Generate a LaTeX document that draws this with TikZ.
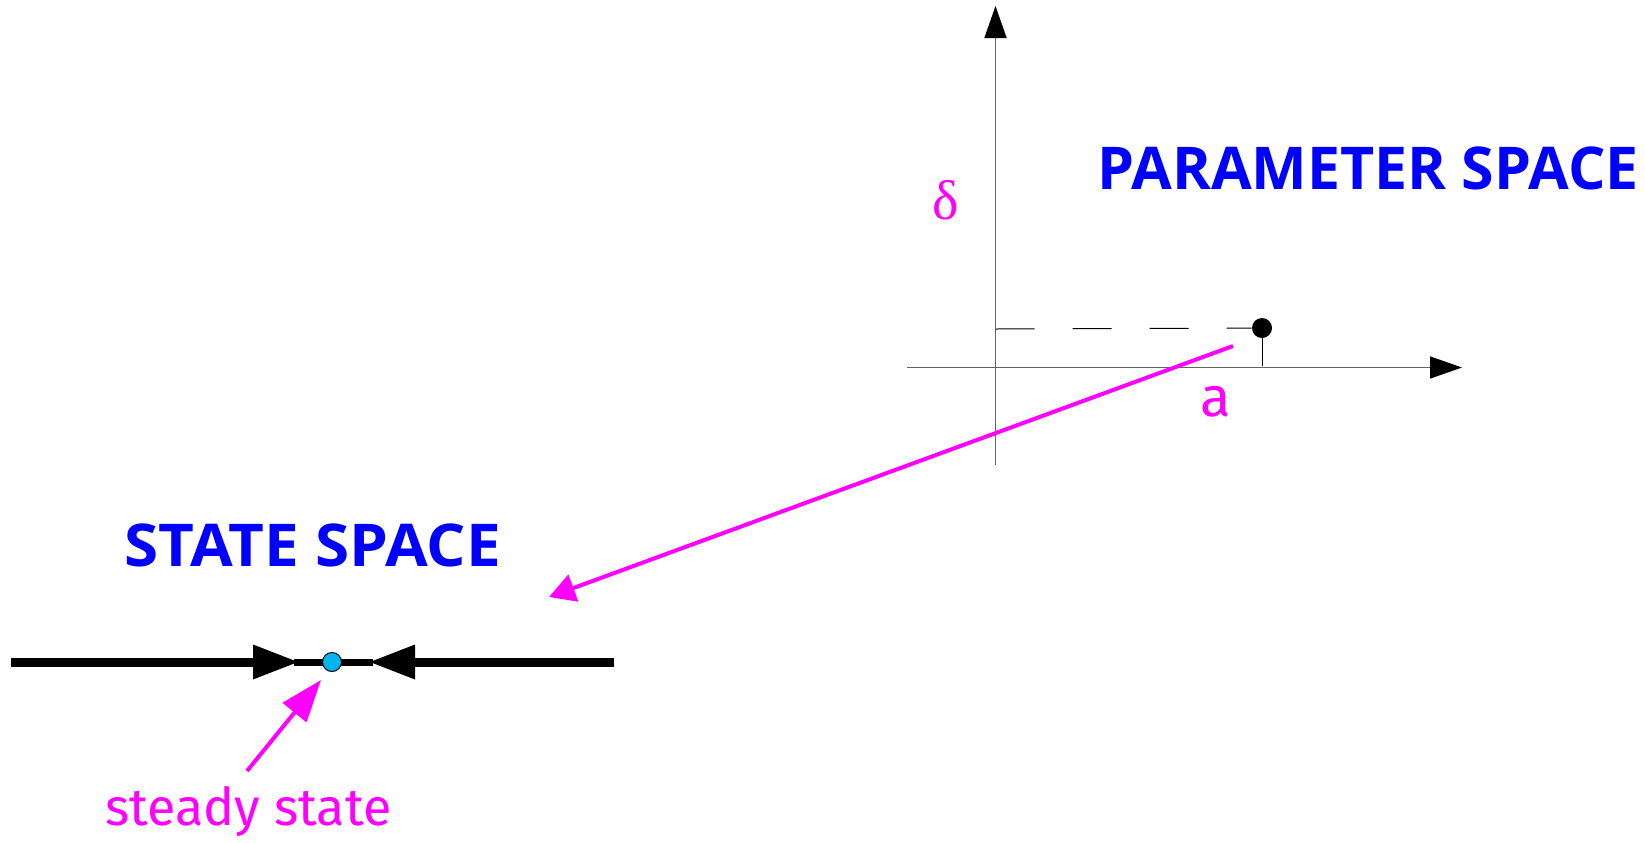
\documentclass[tikz,border=0pt]{standalone}
\usepackage{fontspec}
\usetikzlibrary{arrows.meta}
\newfontfamily\headfont{Open Sans}
\newfontfamily\labfont{Fira Sans}
\newfontfamily\greekfont{Liberation Serif}
\definecolor{mag}{RGB}{255,0,255}
\definecolor{hblue}{RGB}{0,0,255}
\definecolor{sscyan}{RGB}{0,180,240}
\definecolor{axgray}{RGB}{100,100,100}
\tikzset{
  axis/.style={draw=axgray, line width=0.75pt, -{Triangle[length=16pt,width=11pt,fill=black,color=black]}},
  magarrow/.style={draw=mag, line width=2pt, -{Triangle[length=13pt,width=14pt]}},
  bigmagarrow/.style={draw=mag, line width=2pt, -{Triangle[length=21pt,width=15pt]}},
  heading/.style={font=\headfont\bfseries\fontsize{29.5}{30}\selectfont, text=hblue, inner sep=0pt, anchor=base west},
  maglabel/.style={font=\labfont\fontsize{26}{27}\selectfont, text=mag, inner sep=0pt},
  blackdot/.style={circle, fill=black, inner sep=0pt, minimum size=10pt},
  cyandot/.style={circle, draw=black, line width=0.5pt, fill=sscyan, inner sep=0pt, minimum size=9.5pt},
  stateline/.style={line width=4.5pt, draw=black},
  flowhead/.style={fill=black},
}
\begin{document}
\begin{tikzpicture}[x=0.5pt,y=-0.5pt]
\useasboundingbox (0,0) rectangle (1645,842);
% parameter space axes
\coordinate (ytop) at (995.5,6);
\coordinate (ybot) at (995.5,465);
\coordinate (xleft) at (907,367.5);
\coordinate (xright) at (1462,367.5);
\draw[axis] (ybot) -- (ytop);
\draw[axis] (xleft) -- (xright);
% parameter point
\node[blackdot] (P) at (1262,328) {};
\coordinate (Py) at (995.5,329);
\coordinate (Px) at (1262,366);
\draw[black, line width=0.5pt, dash pattern=on 19.5pt off 19pt] (Py) -- (P.west);
\draw[black, line width=0.5pt] (P.south) -- (Px);
% labels
\node[font=\greekfont\fontsize{28}{29}\selectfont, text=mag, inner sep=0pt] (delta) at (946,200) {δ};
\node[maglabel, font=\labfont\fontsize{28}{29}\selectfont] (alab) at (1216,402) {a};
\node[heading] (ps) at (1097,189) {PARAMETER SPACE};
\node[heading] (ss) at (124,566) {\scalebox{1.05}[1]{STATE SPACE}};
% mapping arrow
\coordinate (mstart) at (1233,346);
\coordinate (mend) at (549,597);
\draw[magarrow] (mstart) -- (mend);
% state line
\coordinate (sl) at (11,662);
\coordinate (sr) at (614,662);
\coordinate (la) at (254,662);
\coordinate (lb) at (294,662);
\coordinate (ra) at (414,662);
\coordinate (rb) at (373,662);
\draw[stateline] (sl) -- (la);
\draw[stateline] (ra) -- (sr);
\draw[line width=3.5pt] (lb) -- (rb);
\fill[flowhead] (253,644.5) -- (298,662) -- (253,679.5) -- cycle;
\fill[flowhead] (415,644.5) -- (370,662) -- (415,679.5) -- cycle;
\node[cyandot] (ssdot) at (332,662) {};
% steady state label and arrow
\node[maglabel, anchor=base west] (sst) at (105,825) {steady state};
\coordinate (sstart) at (247,771);
\coordinate (send) at (321,680);
\draw[bigmagarrow] (sstart) -- (send);
\end{tikzpicture}
\end{document}
